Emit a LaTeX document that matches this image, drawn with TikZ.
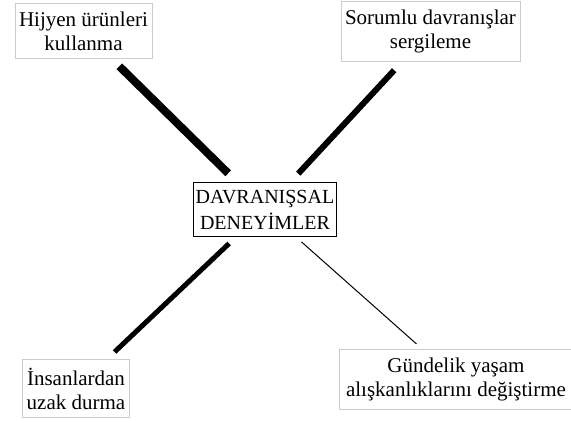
\documentclass[tikz,border=0pt]{standalone}
\usepackage{fontspec}
\setmainfont{Liberation Serif}
\usetikzlibrary{shadows}
\tikzset{
item/.style={
	draw=gray!40,
	line width=0.8pt,
	align=center,
	inner xsep=4pt,
	inner ysep=8.5pt,
	font=\fontsize{21}{24}\selectfont,
},
core/.style={
	draw=black,
	line width=0.9pt,
	fill=white,
	align=center,
	inner xsep=2pt,
	inner ysep=7pt,
	font=\fontsize{20}{26}\selectfont,
	drop shadow={shadow xshift=1.2pt, shadow yshift=-1.2pt, fill=gray!70, opacity=1},
},
link/.style={
	shorten <=10pt,
	shorten >=10pt,
},
}

\begin{document}
\begin{tikzpicture}[x=1pt, y=-1pt]
		\useasboundingbox (0,0) rectangle (571,423);
		% Centre
		\node[core] (core) at (265,209.5) {DAVRANIŞSAL\\DENEYİMLER};
		% Top
		\node[item] (hijyen) at (83.5,31) {Hijyen ürünleri\\kullanma};
		\node[item] (sorumlu) at (430.5,31) {Sorumlu davranışlar\\sergileme};
		% Bottom
		\node[item] (insan) at (76,388.5) {İnsanlardan\\uzak durma};
		\node[item, inner xsep=7pt] (gundelik) at (456,379) {Gündelik yaşam\\alışkanlıklarını değiştirme};

		% Connections
		\draw[link, line width=8pt, shorten >=13pt] (hijyen) -- (core);
		\draw[link, line width=6pt, shorten <=12pt, shorten >=12pt] (sorumlu) -- (core);
		\draw[link, line width=5pt] (insan) -- (core);
		\draw[link, line width=1pt, shorten <=7pt, shorten >=8pt] (gundelik) -- (core);
	\end{tikzpicture}
\end{document}
